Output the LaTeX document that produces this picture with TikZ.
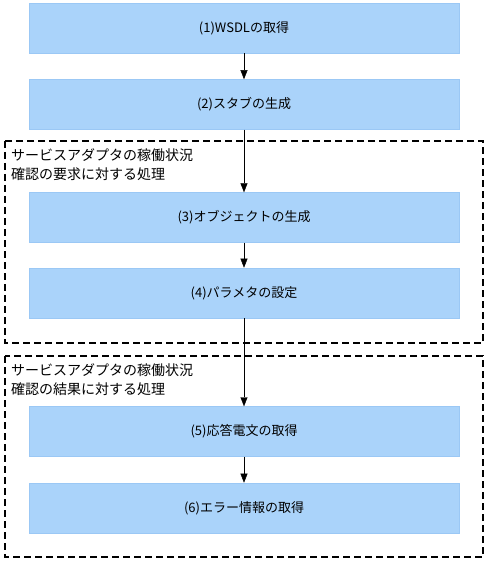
\documentclass[tikz,border=0pt]{standalone}
\usepackage{fontspec}
\newfontfamily\jpfont{Noto Sans CJK JP}
\usepackage{tikz}
\usetikzlibrary{positioning,arrows.meta}

\definecolor{stepfill}{RGB}{170,211,250}
\definecolor{stepline}{RGB}{155,200,245}

\begin{document}
\begin{tikzpicture}[
  x=1pt, y=-1pt,
  >={Triangle[length=9pt,width=7pt]},
  stepbox/.style={draw=stepline, fill=stepfill, minimum width=430pt, minimum height=50pt, inner sep=0pt, font=\jpfont\fontsize{13}{15}\selectfont},
  frame/.style={draw, line width=1.5pt, dash pattern=on 7pt off 4pt},
  framelabel/.style={anchor=north west, align=left, inner sep=0pt, font=\jpfont\fontsize{14}{19}\selectfont}
]
\useasboundingbox (0,0) rectangle (487,561);

% steps
\node[stepbox] (s1) at (244,28) {(1)WSDLの取得};
\node[stepbox, below=26pt of s1] (s2) {(2)スタブの生成};
\node[stepbox] (s3) at (244,217.5) {(3)オブジェクトの生成};
\node[stepbox, below=25pt of s3] (s4) {(4)パラメタの設定};
\node[stepbox] (s5) at (244,431.5) {(5)応答電文の取得};
\node[stepbox, below=26pt of s5] (s6) {(6)エラー情報の取得};

% groups
\draw[frame] (5,141) rectangle (483,343);
\node[framelabel] (g1) at (11,148) {サービスアダプタの稼働状況\\確認の要求に対する処理};
\draw[frame] (5,356) rectangle (483,557);
\node[framelabel] (g2) at (11,363) {サービスアダプタの稼働状況\\確認の結果に対する処理};

\draw[->] (s1) -- (s2);
\draw[->] (s2) -- (s3);
\draw[->] (s3) -- (s4);
\draw[->] (s4) -- (s5);
\draw[->] (s5) -- (s6);
\end{tikzpicture}
\end{document}
